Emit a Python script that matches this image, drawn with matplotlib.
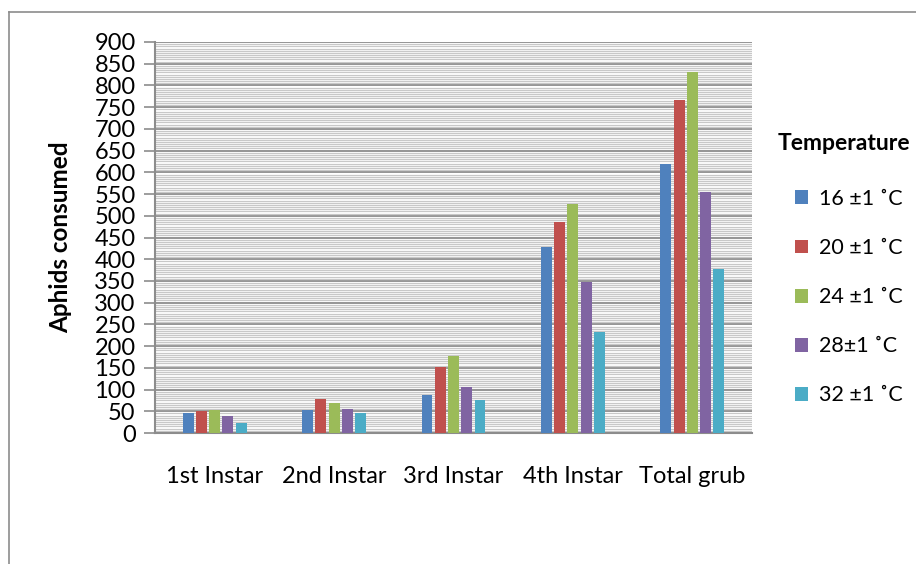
import matplotlib
matplotlib.use("Agg")
import matplotlib.pyplot as plt
import numpy as np
from matplotlib.patches import Patch
from matplotlib.lines import Line2D

categories = ["1st Instar", "2nd Instar", "3rd Instar", "4th Instar", "Total grub"]
series_labels = ["16 ±1 ˚C", "20 ±1 ˚C", "24 ±1 ˚C", "28±1 ˚C", "32 ±1 ˚C"]
t16 = [47, 53, 88, 429, 619]
t20 = [50, 78, 151, 486, 767]
t24 = [53, 70, 177, 527, 831]
t28 = [40, 56, 105, 348, 554]
t32 = [23, 45, 76, 233, 377]
series = [t16, t20, t24, t28, t32]
colors = ["#4F81BD", "#C0504D", "#9BBB59", "#8064A2", "#4BACC6"]
y_ticks = list(range(0, 901, 50))

FONT = ["Lato", "DejaVu Sans"]
plt.rcParams["font.family"] = FONT

fig = plt.figure(figsize=(9.16, 5.64), dpi=100)
W, H = 916, 564
ax = fig.add_axes([155 / W, 1 - 433 / H, 597 / W, 391 / H])

x = np.arange(len(categories))
bw = 0.092
step = 0.111
for i, (vals, c) in enumerate(zip(series, colors)):
    ax.bar(x + (i - 2) * step, vals, width=bw, color=c, zorder=3, label=series_labels[i])

ax.set_xlim(-0.5, len(categories) - 0.5)
ax.set_ylim(0, 900)
ax.set_yticks(y_ticks)
ax.set_yticks(np.arange(0, 901, 5), minor=True)
ax.grid(which="minor", axis="y", color="#c8c8c8", linewidth=0.9, zorder=0)
ax.grid(which="major", axis="y", color="#8c8c8c", linewidth=1.3, zorder=1)
ax.tick_params(axis="y", which="major", direction="out", length=8, color="#8c8c8c", width=1.2,
               labelsize=17, pad=6)
ax.tick_params(axis="y", which="minor", length=0)
ax.set_xticks(x)
ax.set_xticklabels(categories)
ax.tick_params(axis="x", length=0, labelsize=17, pad=24)
for s in ["top", "right"]:
    ax.spines[s].set_visible(False)
for s in ["left", "bottom"]:
    ax.spines[s].set_color("#8c8c8c")
    ax.spines[s].set_linewidth(1.5)
ax.set_ylabel("Aphids consumed", fontsize=17.5, fontweight="bold", labelpad=16)

fig.text(778 / W, 1 - 143 / H, "Temperature", fontsize=16.5, fontweight="bold", va="center", ha="left")
handles = [Patch(facecolor=c, edgecolor="none") for c in colors]
fig.legend(handles, series_labels, loc="upper left", bbox_to_anchor=(795 / W, 1 - 189 / H),
           frameon=False, fontsize=15.5, handlelength=0.62, handleheight=0.62,
           handletextpad=0.5, labelspacing=1.35, borderaxespad=0, borderpad=0)

# outer chart border
fig.add_artist(Line2D([9 / W, 9 / W], [1 - 12 / H, 0], color="#8c8c8c", linewidth=1.2))
fig.add_artist(Line2D([9 / W, 1], [1 - 12 / H, 1 - 12 / H], color="#8c8c8c", linewidth=1.2))

fig.savefig("out.png", dpi=100)
